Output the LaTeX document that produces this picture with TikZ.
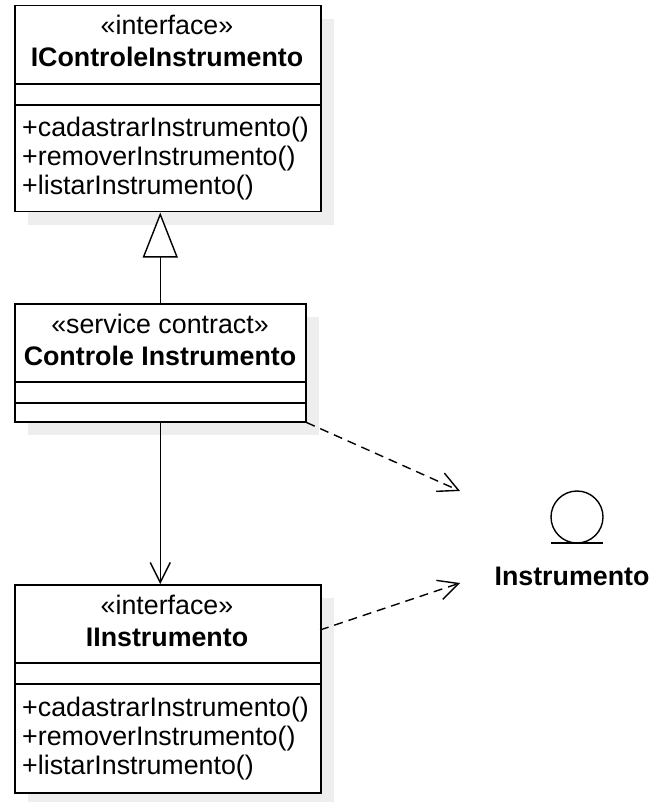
\documentclass[tikz,border=0pt]{standalone}
\usepackage{fontspec}
\setmainfont{Liberation Sans}
\usetikzlibrary{arrows.meta,calc}
\definecolor{shadowc}{HTML}{EEEEEE}
\begin{document}
\begin{tikzpicture}[x=1pt,y=-1pt,
  every node/.style={font=\fontsize{26.8}{30}\selectfont},
  classbox/.style={draw=black, line width=1.5pt, fill=white, inner sep=0pt, anchor=north west},
  shadowbox/.style={fill=shadowc, draw=none},
  divider/.style={line width=1.5pt},
  stereo/.style={anchor=base, inner sep=0pt},
  cname/.style={anchor=base, inner sep=0pt, font=\fontsize{26.8}{30}\selectfont\bfseries},
  meth/.style={anchor=base west, inner sep=0pt},
  conn/.style={line width=1.4pt},
  dashconn/.style={line width=1.4pt, dash pattern=on 9pt off 6pt},
  openarrow/.style={-{Straight Barb[length=20pt,width=20pt,line width=1.4pt]}},
]
\useasboundingbox (0,0) rectangle (656,802);

% shadows
\fill[shadowbox] (28,19) rectangle (334,225);
\fill[shadowbox] (28,317) rectangle (319,435);
\fill[shadowbox] (28,598) rectangle (334,806);

% class IControleInstrumento
\node[classbox, minimum width=306pt, minimum height=206pt] (c1) at (14,5) {};
\draw[divider] (14,84) -- (320,84);
\draw[divider] (14,105) -- (320,105);
\node[stereo] (c1s) at (167,35) {«interface»};
\node[cname] (c1n) at (167,67) {IControleInstrumento};
\node[meth] (c1m1) at (22,137) {+cadastrarInstrumento()};
\node[meth] (c1m2) at (22,166) {+removerInstrumento()};
\node[meth] (c1m3) at (22,195) {+listarInstrumento()};

% class Controle Instrumento
\node[classbox, minimum width=291pt, minimum height=118pt] (c2) at (14,303) {};
\draw[divider] (14,382) -- (305,382);
\draw[divider] (14,403) -- (305,403);
\node[stereo] (c2s) at (160,333) {«service contract»};
\node[cname] (c2n) at (160,365) {Controle Instrumento};

% class IInstrumento
\node[classbox, minimum width=306pt, minimum height=208pt] (c3) at (14,584) {};
\draw[divider] (14,663) -- (320,663);
\draw[divider] (14,684) -- (320,684);
\node[stereo] (c3s) at (167,614) {«interface»};
\node[cname] (c3n) at (167,646) {IInstrumento};
\node[meth] (c3m1) at (22,716) {+cadastrarInstrumento()};
\node[meth] (c3m2) at (22,745) {+removerInstrumento()};
\node[meth] (c3m3) at (22,774) {+listarInstrumento()};

% entity Instrumento
\node[draw, circle, line width=1.4pt, minimum size=52pt, inner sep=0pt] (ent) at (577,517) {};
\draw[line width=1.4pt] (551,543) -- (603,543);
\node[cname] (entl) at (572,585) {Instrumento};

\coordinate (t1) at (460,491);
\coordinate (t2) at (460,583);
\coordinate (s2) at (320,630);

% realization
\draw[conn, -{Triangle[open, length=45pt, width=35pt, line width=1.4pt, fill=white]}] (c2.north) -- (c2.north |- c1.south);
% association
\draw[conn, openarrow] (c2.south) -- (c2.south |- c3.north);
% dependencies
\draw[dashconn, openarrow] (c2.south east) -- (t1);
\draw[dashconn, openarrow] (s2) -- (t2);
\end{tikzpicture}
\end{document}
